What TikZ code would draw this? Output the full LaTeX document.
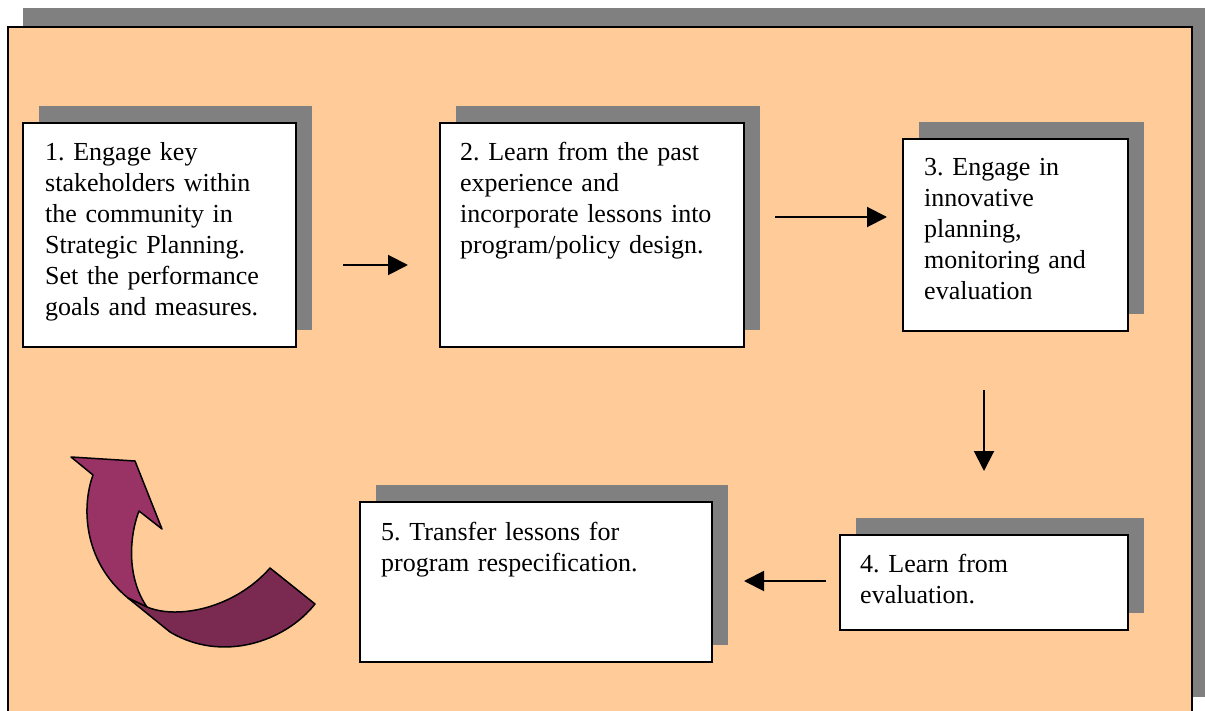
\documentclass[tikz,border=0pt]{standalone}
\usepackage{fontspec}
\setmainfont{Liberation Serif}
\usetikzlibrary{arrows.meta,shadows}
\definecolor{bgorange}{RGB}{255,204,153}
\definecolor{shadowgray}{RGB}{128,128,128}
\definecolor{arrowlight}{RGB}{153,51,102}
\definecolor{arrowdark}{RGB}{122,42,80}
\frenchspacing
\tikzset{
  stepbox/.style={draw=black, line width=2pt, fill=white, inner sep=0pt,
    drop shadow={shadow xshift=16pt, shadow yshift=17pt, fill=shadowgray, opacity=1}},
  lbl/.style={anchor=base west, inner sep=0pt, align=left, text width=300pt,
    font=\fontsize{26}{31}\selectfont\frenchspacing},
  flow/.style={line width=2pt, -{Triangle[length=20pt,width=20pt]}},
  ribbon/.style={draw=black, line width=1.5pt, line join=round}
}
\begin{document}
\begin{tikzpicture}[x=1pt,y=-1pt]
\useasboundingbox (0,0) rectangle (1205,711);
\clip (0,0) rectangle (1205,711);
% outer frame
\fill[shadowgray] (23,8) rectangle (1205,697);
\draw[fill=bgorange, line width=2.5pt] (8,27) rectangle (1192,730);

% boxes
\node[stepbox, minimum width=273pt, minimum height=224pt] (b1) at (159.5,235) {};
\node[stepbox, minimum width=304pt, minimum height=224pt] (b2) at (592,235) {};
\node[stepbox, minimum width=225pt, minimum height=192pt] (b3) at (1015.5,235) {};
\node[stepbox, minimum width=288pt, minimum height=95pt] (b4) at (984,582.5) {};
\node[stepbox, minimum width=352pt, minimum height=160pt] (b5) at (536,582) {};

% texts
\node[lbl] (t1) at (45,160.5) {1. Engage key\\stakeholders within\\the community in\\Strategic Planning.\\Set the performance\\goals and measures.};
\node[lbl] (t2) at (460,160.5) {2. Learn from the past\\experience and\\incorporate lessons into\\program/policy design.};
\node[lbl] (t3) at (924,176) {3. Engage in\\innovative\\planning,\\monitoring and\\evaluation};
\node[lbl] (t4) at (860,572) {4. Learn from\\evaluation.};
\node[lbl] (t5) at (381,540) {5. Transfer lessons for\\program respecification.};

% connectors
\coordinate (a1s) at (343,265); \coordinate (a1e) at (408,265);
\coordinate (a2s) at (775,217); \coordinate (a2e) at (887,217);
\coordinate (a3s) at (984,390); \coordinate (a3e) at (984,471);
\coordinate (a4s) at (826,581); \coordinate (a4e) at (744,581);
\draw[flow] (a1s) -- (a1e);
\draw[flow] (a2s) -- (a2e);
\draw[flow] (a3s) -- (a3e);
\draw[flow] (a4s) -- (a4e);

% curved return arrow
\draw[ribbon, fill=arrowlight] (128,598) .. controls (82,560) and (82,505) .. (93,475)
  -- (71,457) -- (135,461) -- (162,529) -- (139,511)
  .. controls (128,540) and (128,580) .. (147,607) -- cycle;
\draw[ribbon, fill=arrowdark] (128,598) -- (147,607)
  .. controls (178,620) and (235,608) .. (270,568)
  -- (315,604)
  .. controls (285,642) and (222,663) .. (170,632) -- cycle;
\end{tikzpicture}
\end{document}
